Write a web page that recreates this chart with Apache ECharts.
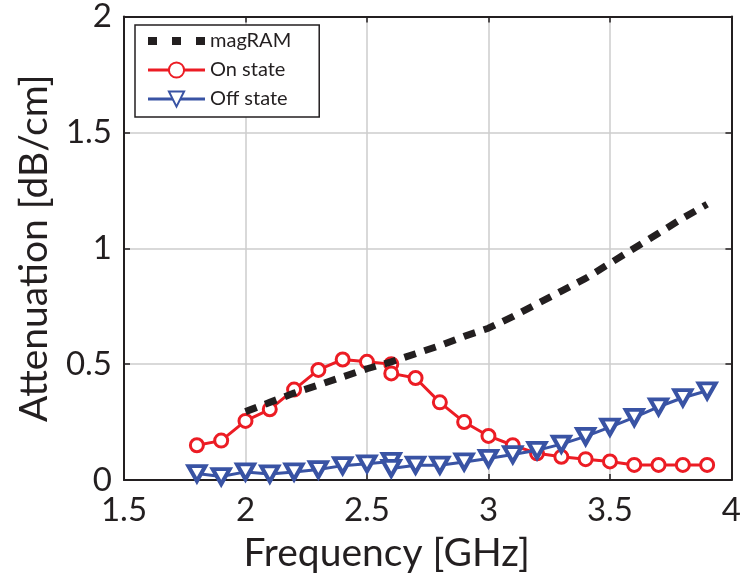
<!DOCTYPE html>
<html>
<head>
<meta charset="utf-8">
<script src="https://cdn.jsdelivr.net/npm/echarts@6/dist/echarts.min.js"></script>
<style>
  html, body { margin: 0; padding: 0; background: #fff; }
  #chart { width: 744px; height: 578px; }
</style>
</head>
<body>
<div id="chart"></div>
<script>
// Frequency sweeps (GHz) and measured attenuation (dB/cm)
const magFreq = [2.0, 2.1, 2.2, 2.3, 2.4, 2.5, 2.6, 2.7, 2.8, 2.9, 3.0, 3.1, 3.2, 3.3, 3.4, 3.5, 3.6, 3.7, 3.8, 3.9];
const magAtt  = [0.295, 0.335, 0.375, 0.41, 0.445, 0.48, 0.51, 0.545, 0.58, 0.62, 0.655, 0.705, 0.76, 0.815, 0.87, 0.935, 1.0, 1.065, 1.13, 1.19];

const onFreq = [1.8, 1.9, 2.0, 2.1, 2.2, 2.3, 2.4, 2.5, 2.6, 2.6, 2.7, 2.8, 2.9, 3.0, 3.1, 3.2, 3.3, 3.4, 3.5, 3.6, 3.7, 3.8, 3.9];
const onAtt  = [0.15, 0.17, 0.255, 0.305, 0.39, 0.475, 0.52, 0.51, 0.50, 0.46, 0.44, 0.335, 0.25, 0.19, 0.15, 0.115, 0.10, 0.09, 0.08, 0.065, 0.065, 0.065, 0.065];

const offFreq = [1.8, 1.9, 2.0, 2.1, 2.2, 2.3, 2.4, 2.5, 2.6, 2.6, 2.7, 2.8, 2.9, 3.0, 3.1, 3.2, 3.3, 3.4, 3.5, 3.6, 3.7, 3.8, 3.9];
const offAtt  = [0.028, 0.015, 0.035, 0.026, 0.035, 0.045, 0.062, 0.07, 0.08, 0.05, 0.064, 0.064, 0.078, 0.093, 0.11, 0.128, 0.155, 0.188, 0.228, 0.27, 0.316, 0.355, 0.385];

const xTicks = [1.5, 2, 2.5, 3, 3.5, 4];
const yTicks = [0, 0.5, 1, 1.5, 2];

const pairs = (xs, ys) => xs.map((x, i) => [x, ys[i]]);

const FONT = 'Lato';
const INK = '#231f20';
const RED = '#ec1c24';
const BLUE = '#3953a4';

const chart = echarts.init(document.getElementById('chart'), null, { renderer: 'canvas' });

// Box frame: top and right axes carry only the line and inward ticks
const frameAxis = {
  axisLine: { show: true, onZero: false, lineStyle: { color: INK, width: 2 } },
  axisTick: { show: true, inside: true, length: 6, lineStyle: { color: INK, width: 1.5 } },
  splitLine: { show: false },
  axisLabel: { show: false }
};

chart.setOption({
  animation: false,
  backgroundColor: '#ffffff',
  textStyle: { fontFamily: FONT },
  grid: { left: 124, right: 11, top: 15, bottom: 98, containLabel: false },
  legend: {
    orient: 'vertical',
    left: 135,
    top: 25,
    padding: [6, 28, 8, 9],
    itemGap: 9,
    itemWidth: 57,
    itemHeight: 19,
    backgroundColor: '#fff',
    borderColor: INK,
    borderWidth: 1.5,
    textStyle: { fontFamily: FONT, fontSize: 20, color: INK },
    data: [
      {
        name: 'magRAM',
        itemStyle: { color: 'rgba(0,0,0,0)', borderColor: 'rgba(0,0,0,0)', borderWidth: 0 },
        lineStyle: { color: INK, width: 8, type: [9, 15] }
      },
      { name: 'On state', lineStyle: { width: 3 } },
      { name: 'Off state', lineStyle: { width: 3 } }
    ]
  },
  xAxis: [
    {
      type: 'value', min: xTicks[0], max: xTicks[xTicks.length - 1], interval: 0.5,
      name: 'Frequency [GHz]', nameLocation: 'middle', nameGap: 54,
      nameTextStyle: { fontFamily: FONT, fontSize: 39, color: INK, padding: [0, 82, 0, 0] },
      axisLine: { show: true, onZero: false, lineStyle: { color: INK, width: 2 } },
      axisTick: { show: true, inside: true, length: 6, lineStyle: { color: INK, width: 1.5 } },
      axisLabel: { fontFamily: FONT, fontSize: 33, color: INK, margin: 14 },
      splitLine: { show: true, lineStyle: { color: '#cccccc', width: 1.5 } }
    },
    Object.assign({ type: 'value', position: 'top', min: xTicks[0], max: xTicks[xTicks.length - 1], interval: 0.5 }, frameAxis)
  ],
  yAxis: [
    {
      type: 'value', min: yTicks[0], max: yTicks[yTicks.length - 1], interval: 0.5,
      name: 'Attenuation [dB/cm]', nameLocation: 'middle', nameGap: 70,
      nameTextStyle: { fontFamily: FONT, fontSize: 39, color: INK },
      axisLine: { show: true, onZero: false, lineStyle: { color: INK, width: 2 } },
      axisTick: { show: true, inside: true, length: 6, lineStyle: { color: INK, width: 1.5 } },
      axisLabel: { fontFamily: FONT, fontSize: 33, color: INK, margin: 12 },
      splitLine: { show: true, lineStyle: { color: '#cccccc', width: 1.5 } }
    },
    Object.assign({ type: 'value', position: 'right', min: yTicks[0], max: yTicks[yTicks.length - 1], interval: 0.5 }, frameAxis)
  ],
  series: [
    {
      name: 'magRAM', type: 'line', z: 4,
      data: pairs(magFreq, magAtt),
      symbol: 'none',
      lineStyle: { color: INK, width: 7, type: [12, 9] },
      itemStyle: { color: INK }
    },
    {
      name: 'On state', type: 'line', z: 2,
      data: pairs(onFreq, onAtt),
      symbol: 'circle', symbolSize: 13,
      lineStyle: { color: RED, width: 3 },
      itemStyle: { color: '#ffffff', borderColor: RED, borderWidth: 3 }
    },
    {
      name: 'Off state', type: 'line', z: 3,
      data: pairs(offFreq, offAtt),
      symbol: 'triangle', symbolRotate: 180, symbolSize: [17, 15],
      lineStyle: { color: BLUE, width: 3 },
      itemStyle: { color: '#ffffff', borderColor: BLUE, borderWidth: 4 }
    }
  ]
});
</script>
</body>
</html>
